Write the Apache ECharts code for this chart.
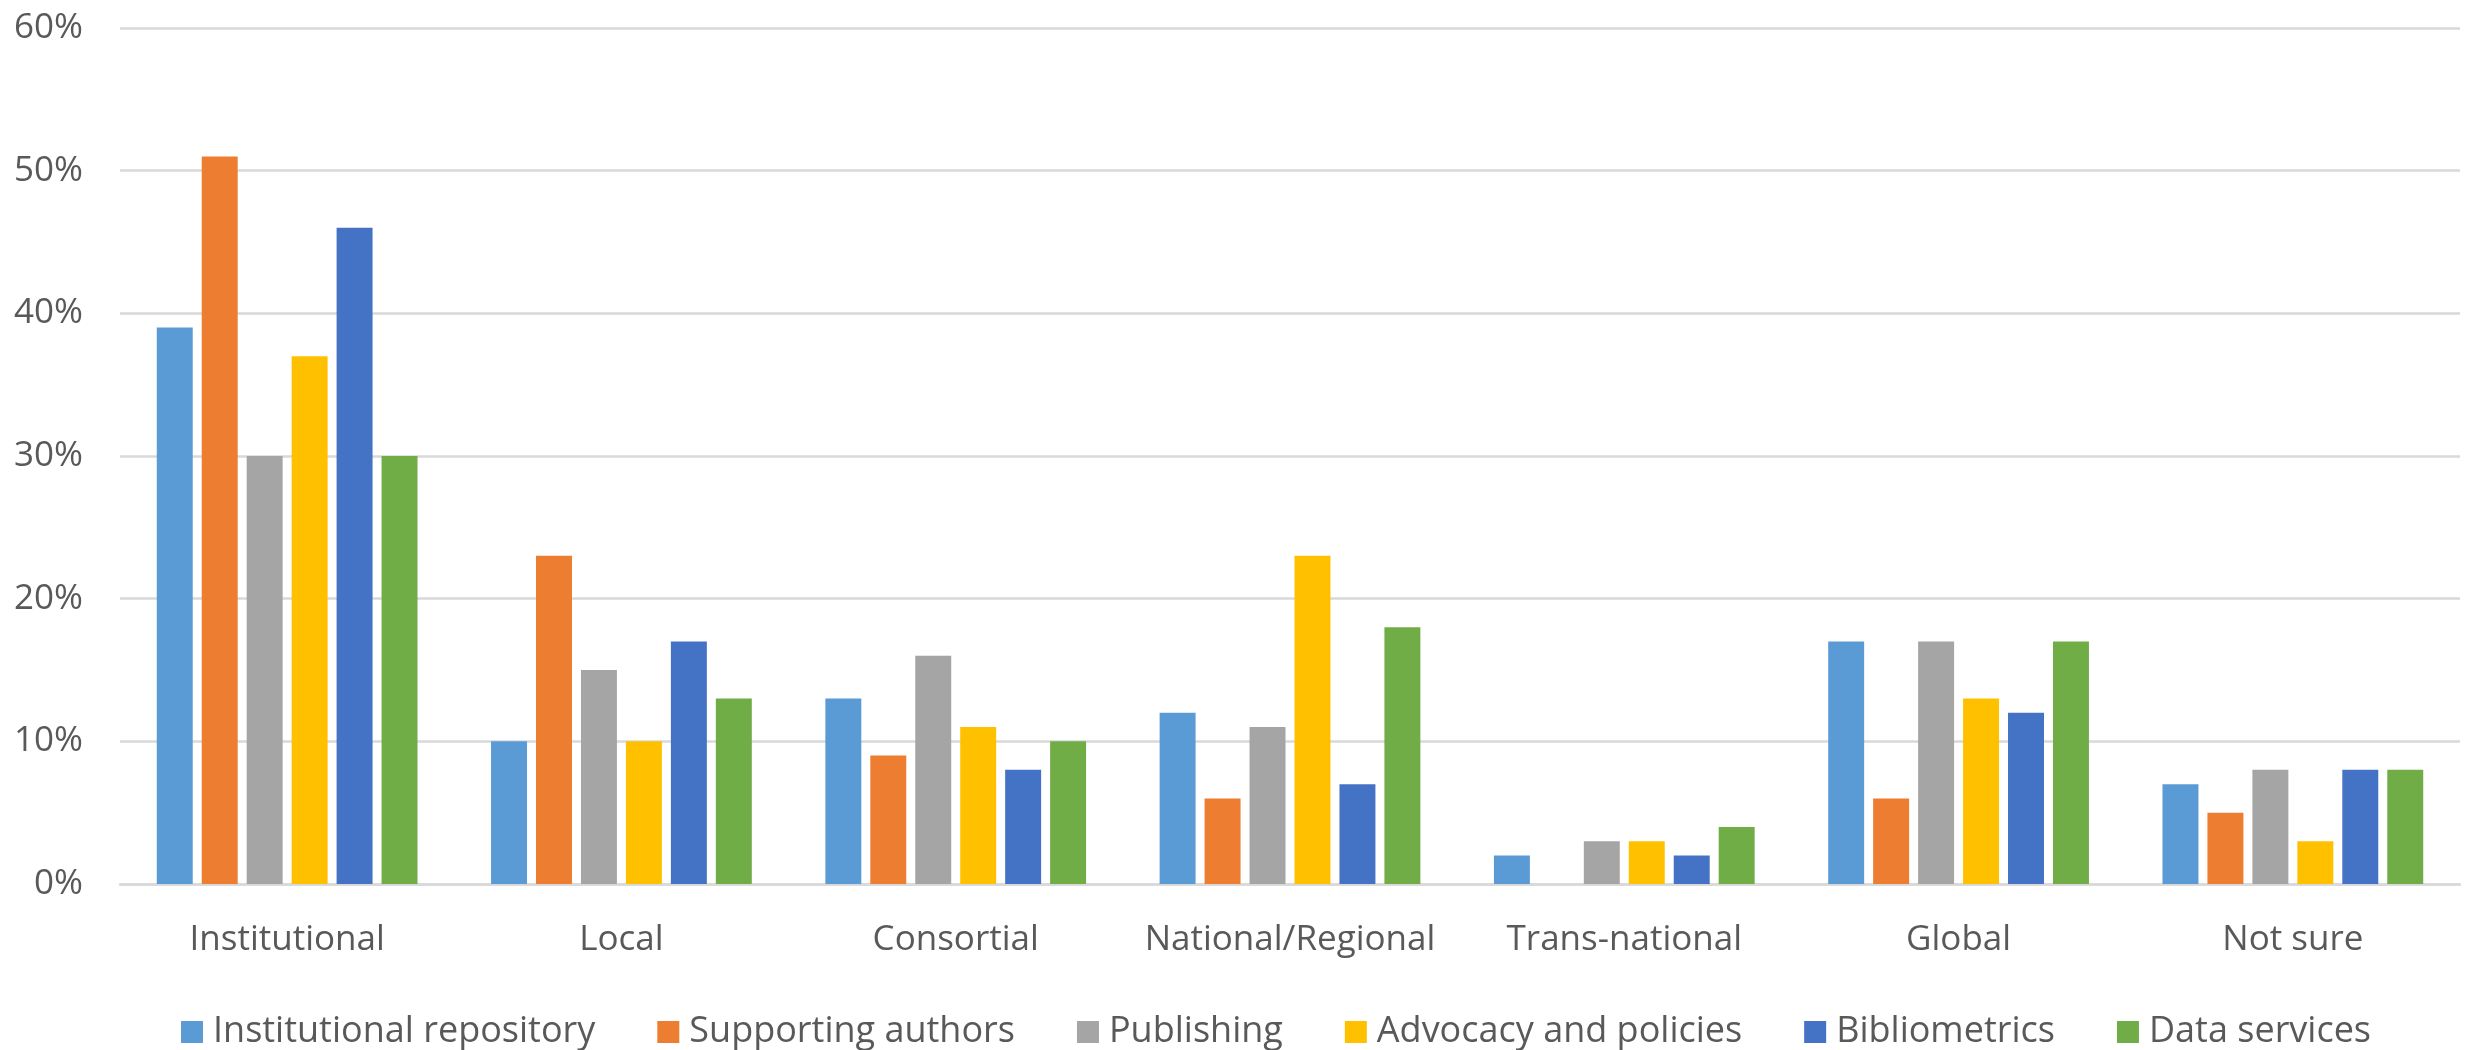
<!DOCTYPE html>
<html>
<head>
<meta charset="utf-8">
<script src="https://cdn.jsdelivr.net/npm/echarts@6/dist/echarts.min.js"></script>
<style>
html,body{margin:0;padding:0;background:#fff;}
#chart{width:2491px;height:1050px;}
</style>
</head>
<body>
<div id="chart"></div>
<script>
const categories = ["Institutional","Local","Consortial","National/Regional","Trans-national","Global","Not sure"];
const seriesNames = ["Institutional repository","Supporting authors","Publishing","Advocacy and policies","Bibliometrics","Data services"];
const institutionalRepository = [39,10,13,12,2,17,7];
const supportingAuthors = [51,23,9,6,0,6,5];
const publishing = [30,15,16,11,3,17,8];
const advocacyAndPolicies = [37,10,11,23,3,13,3];
const bibliometrics = [46,17,8,7,2,12,8];
const dataServices = [30,13,10,18,4,17,8];
const yTicks = [0,10,20,30,40,50,60];
const colors = ["#5B9BD5","#ED7D31","#A5A5A5","#FFC000","#4472C4","#70AD47"];

const values = [institutionalRepository,supportingAuthors,publishing,advocacyAndPolicies,bibliometrics,dataServices];
const font = "'Open Sans', sans-serif";
const txt = "#595959";

const chart = echarts.init(document.getElementById('chart'), null, {renderer:'canvas'});
chart.setOption({
  animation:false,
  color: colors,
  grid:{left:120,right:31,top:28,bottom:166,containLabel:false},
  legend:{
    data: seriesNames,
    top: 1009,
    left: 176,
    icon: 'rect',
    itemWidth: 22,
    itemHeight: 22,
    itemGap: 62,
    textStyle:{fontFamily:font,fontSize:36,color:txt,padding:[0,0,0,5]}
  },
  xAxis:{
    type:'category',
    data: categories,
    axisLine:{show:true,lineStyle:{color:'#D9D9D9',width:2.5}},
    axisTick:{show:false},
    axisLabel:{fontFamily:font,fontSize:35,color:txt,margin:39,interval:0}
  },
  yAxis:{
    type:'value',
    min: yTicks[0],
    max: yTicks[yTicks.length-1],
    interval: 10,
    axisLine:{show:false},
    axisTick:{show:false},
    splitLine:{lineStyle:{color:'#D9D9D9',width:2.5}},
    axisLabel:{fontFamily:font,fontSize:35,color:txt,margin:37,formatter:'{value}%'}
  },
  series: seriesNames.map((n,i)=>({
    name:n,
    type:'bar',
    data: values[i],
    barGap:'25%',
    barCategoryGap:'22%',
    itemStyle:{color:colors[i]}
  }))
});
</script>
</body>
</html>
